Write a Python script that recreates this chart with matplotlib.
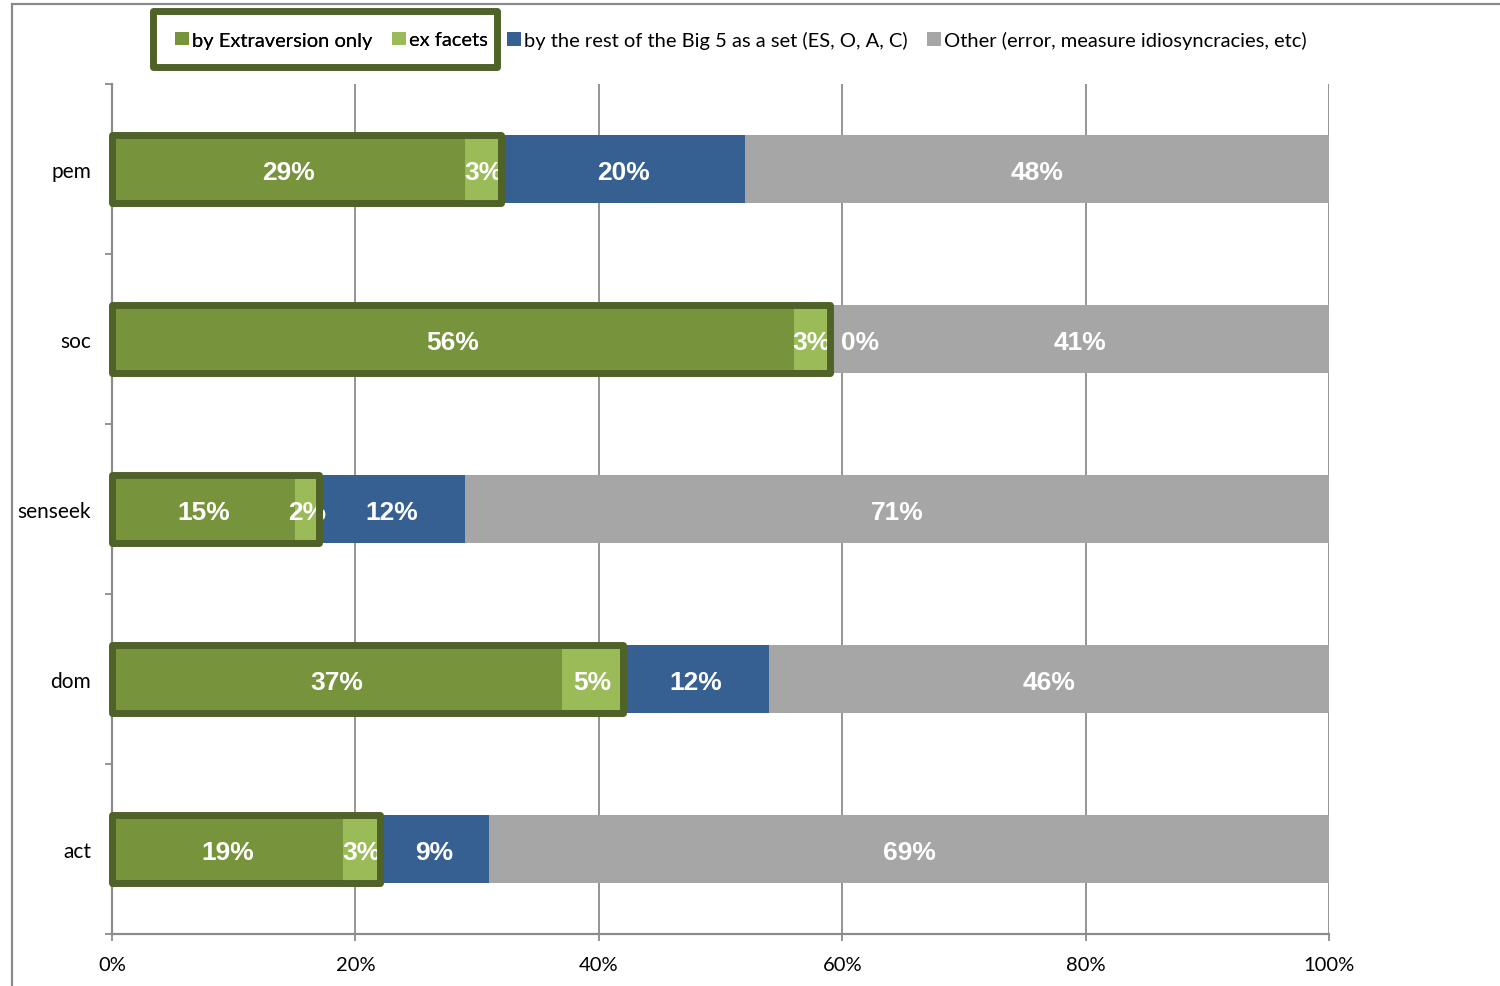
import matplotlib
matplotlib.use("Agg")
import matplotlib.pyplot as plt
from matplotlib.patches import Rectangle, Patch
import numpy as np

# variance shares (%) per facet scale
scales = ["pem", "soc", "senseek", "dom", "act"]
extraversion = [29, 56, 15, 37, 19]
ex_facets = [3, 3, 2, 5, 3]
rest_big5 = [20, 0, 12, 12, 9]
other = [48, 41, 71, 46, 69]

series_names = ["by Extraversion only", "ex facets",
                "by the rest of the Big 5 as a set (ES, O, A, C)",
                "Other (error, measure idiosyncracies, etc)"]
colors = ["#77933c", "#9bbb59", "#376092", "#a6a6a6"]
outline = "#4f6228"
grid_col = "#8c8c8c"

plt.rcParams["font.family"] = ["Lato", "DejaVu Sans"]

fig = plt.figure(figsize=(15, 9.87), dpi=100)
ax = fig.add_axes([112 / 1500, 1 - 935 / 987, 1217 / 1500, 850 / 987])

y = np.arange(len(scales))
bar_h = 0.4
data = [extraversion, ex_facets, rest_big5, other]
left = np.zeros(len(scales))
for vals, col in zip(data, colors):
    vals = np.array(vals, dtype=float)
    ax.barh(y, vals, left=left, height=bar_h, color=col, zorder=2)
    for yi, l, v in zip(y, left, vals):
        if v == 0:
            ax.text(l + 0.9, yi, f"{v:.0f}%", ha="left", va="center_baseline",
                    color="white", fontsize=19, fontweight="bold",
                    family="Liberation Sans", zorder=3)
        else:
            ax.text(l + v / 2, yi, f"{v:.0f}%", ha="center",
                    va="center_baseline", color="white", fontsize=19,
                    fontweight="bold", family="Liberation Sans", zorder=3)
    left += vals

# dark outline around the Extraversion part of each bar
for yi, e, f in zip(y, extraversion, ex_facets):
    ax.add_patch(Rectangle((0, yi - bar_h / 2), e + f, bar_h, fill=False,
                           edgecolor=outline, linewidth=5,
                           joinstyle="round", zorder=4, clip_on=False))

ax.set_xlim(0, 100)
ax.set_ylim(len(scales) - 0.5, -0.5)
ax.set_xticks(np.arange(0, 101, 20))
ax.set_xticklabels([f"{t}%" for t in range(0, 101, 20)])
ax.set_yticks(y)
ax.set_yticklabels(scales)
ax.set_yticks(np.arange(-0.5, len(scales)), minor=True)
ax.tick_params(axis="y", which="major", length=0, pad=15, labelsize=15)
ax.tick_params(axis="y", which="minor", length=5, width=1.3, color=grid_col)
ax.tick_params(axis="x", length=5, width=1.3, color=grid_col, pad=11,
               labelsize=14.5)
ax.grid(axis="x", color=grid_col, linewidth=1.3, zorder=0)
ax.set_axisbelow(True)
for s in ["top", "right"]:
    ax.spines[s].set_visible(False)
for s in ["left", "bottom"]:
    ax.spines[s].set_color(grid_col)
    ax.spines[s].set_linewidth(1.6)

handles = [Patch(facecolor=c, edgecolor="none") for c in colors]
leg_kw = dict(ncol=2, loc="center left", fontsize=14.5, handlelength=0.68,
              handleheight=0.68, handletextpad=0.18, columnspacing=0.95,
              frameon=False, borderpad=0, borderaxespad=0)
leg1 = fig.legend(handles[:2], series_names[:2],
                  bbox_to_anchor=(175 / 1500, 1 - 41 / 987), **leg_kw)
leg2 = fig.legend(handles[2:], series_names[2:],
                  bbox_to_anchor=(507 / 1500, 1 - 41 / 987), **leg_kw)
fig.add_artist(leg1)

# dark box around the Extraversion legend entries
fig.add_artist(Rectangle((153 / 1500, 1 - 68 / 987), 344 / 1500, 56 / 987,
                         transform=fig.transFigure, fill=False,
                         edgecolor=outline, linewidth=5, joinstyle="round"))

# page frame
fig.add_artist(Rectangle((12 / 1500, -0.1), 1.2, 1.1 - 5 / 987,
                         transform=fig.transFigure, fill=False,
                         edgecolor="#8a8a8a", linewidth=1.6))

fig.savefig("out.png", dpi=100)
